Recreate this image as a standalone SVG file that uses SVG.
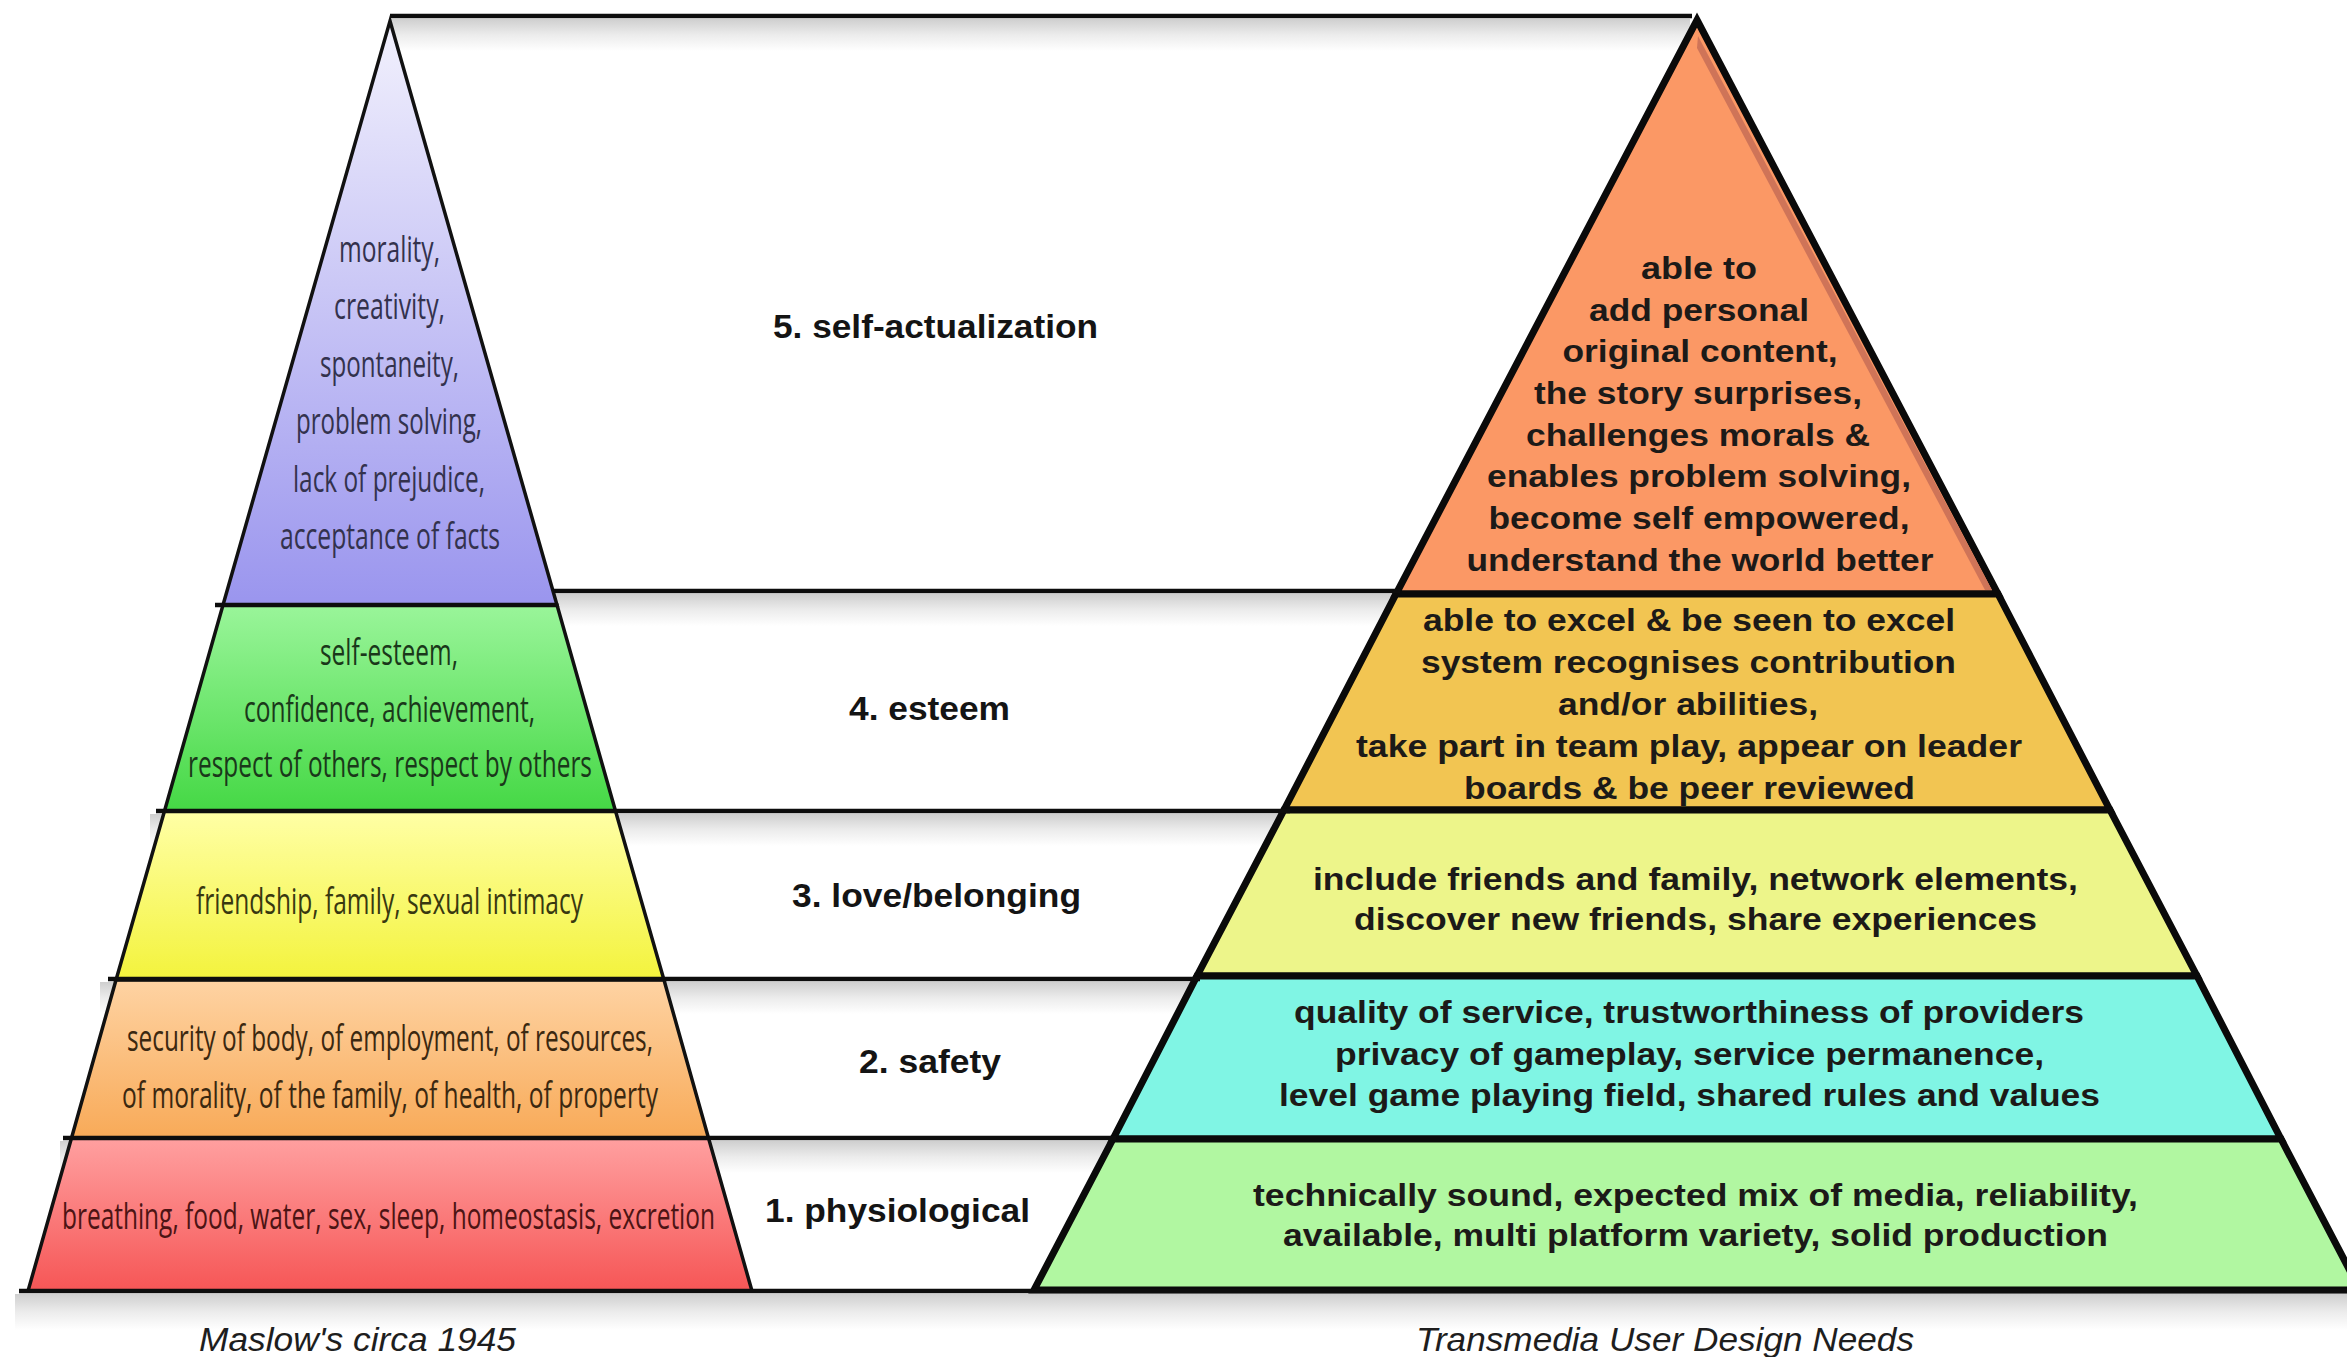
<svg xmlns="http://www.w3.org/2000/svg" width="2347" height="1357" viewBox="0 0 2347 1357">
<style>
.lt{font-family:"Open Sans","Liberation Sans",Arial,sans-serif;font-size:37px;text-anchor:middle}
.rt{font-family:"Liberation Sans",Arial,sans-serif;font-weight:bold;font-size:31px;text-anchor:middle;fill:#1c1a18}
.lbl{font-family:"Liberation Sans",Arial,sans-serif;font-weight:bold;font-size:33px;text-anchor:middle;fill:#141414}
.cap{font-family:"Liberation Sans",Arial,sans-serif;font-style:italic;font-size:33px;text-anchor:middle;fill:#1e1e1e}
.lb{stroke:#111;stroke-width:3.5;stroke-linejoin:miter}
.rb{stroke:#0a0a0a;stroke-width:7;stroke-linejoin:miter}
.cn{stroke:#0d0d0d;stroke-width:4.5;fill:none}
.sh{fill:url(#shade)}
</style>
<defs>
<linearGradient id="shade" x1="0" y1="0" x2="0" y2="1"><stop offset="0" stop-color="#cfcfcf"/><stop offset="0.5" stop-color="#ececec"/><stop offset="1" stop-color="#ffffff"/></linearGradient>
<linearGradient id="gP" x1="0" y1="0" x2="0" y2="1"><stop offset="0" stop-color="#f2f1fd"/><stop offset="0.45" stop-color="#cbc8f6"/><stop offset="1" stop-color="#9a95ee"/></linearGradient>
<linearGradient id="gG" x1="0" y1="0" x2="0" y2="1"><stop offset="0" stop-color="#9af59a"/><stop offset="1" stop-color="#45d845"/></linearGradient>
<linearGradient id="gY" x1="0" y1="0" x2="0" y2="1"><stop offset="0" stop-color="#ffffa6"/><stop offset="1" stop-color="#f3f33c"/></linearGradient>
<linearGradient id="gO" x1="0" y1="0" x2="0" y2="1"><stop offset="0" stop-color="#fed3a3"/><stop offset="1" stop-color="#f8aa58"/></linearGradient>
<linearGradient id="gR" x1="0" y1="0" x2="0" y2="1"><stop offset="0" stop-color="#ffa0a0"/><stop offset="1" stop-color="#f65656"/></linearGradient>
</defs>
<rect x="0" y="0" width="2347" height="1357" fill="#ffffff"/>
<g id="shadows">
<rect class="sh" x="390" y="19" width="1300" height="32"/>
<rect class="sh" x="400" y="594" width="1010" height="32"/>
<rect class="sh" x="150" y="814" width="1150" height="32"/>
<rect class="sh" x="100" y="982" width="1110" height="32"/>
<rect class="sh" x="60" y="1141" width="1070" height="32"/>
<rect class="sh" x="15" y="1294" width="2332" height="36"/>
</g>
<g id="maslow-5">
<polygon class="lb" points="390,21 557,605 223,605" fill="url(#gP)"/>
<g class="lt" fill="#33324d" transform="scale(0.6,1)">
<text x="649.2" y="262" textLength="168.3" lengthAdjust="spacingAndGlyphs">morality,</text>
<text x="649.2" y="319" textLength="185" lengthAdjust="spacingAndGlyphs">creativity,</text>
<text x="649.2" y="377" textLength="231.7" lengthAdjust="spacingAndGlyphs">spontaneity,</text>
<text x="648.3" y="434" textLength="310" lengthAdjust="spacingAndGlyphs">problem solving,</text>
<text x="648.3" y="492" textLength="320" lengthAdjust="spacingAndGlyphs">lack of prejudice,</text>
<text x="650" y="549" textLength="366.7" lengthAdjust="spacingAndGlyphs">acceptance of facts</text>
</g>
</g>
<g id="maslow-4">
<polygon class="lb" points="223,605 557,605 615.5,811 164.5,811" fill="url(#gG)"/>
<g class="lt" fill="#1a381a" transform="scale(0.6,1)">
<text x="648.3" y="665" textLength="230" lengthAdjust="spacingAndGlyphs">self-esteem,</text>
<text x="649.2" y="722" textLength="485" lengthAdjust="spacingAndGlyphs">confidence, achievement,</text>
<text x="650" y="777" textLength="673.3" lengthAdjust="spacingAndGlyphs">respect of others, respect by others</text>
</g>
</g>
<g id="maslow-3">
<polygon class="lb" points="164.5,811 615.5,811 664,980 116,980" fill="url(#gY)"/>
<g class="lt" fill="#383810" transform="scale(0.6,1)">
<text x="649.2" y="914" textLength="645" lengthAdjust="spacingAndGlyphs">friendship, family, sexual intimacy</text>
</g>
</g>
<g id="maslow-2">
<polygon class="lb" points="116,980 664,980 708.5,1138 71.5,1138" fill="url(#gO)"/>
<g class="lt" fill="#3b2810" transform="scale(0.6,1)">
<text x="650" y="1051" textLength="876.7" lengthAdjust="spacingAndGlyphs">security of body, of employment, of resources,</text>
<text x="650" y="1108" textLength="893.3" lengthAdjust="spacingAndGlyphs">of morality, of the family, of health, of property</text>
</g>
</g>
<g id="maslow-1">
<polygon class="lb" points="71.5,1138 708.5,1138 752,1291 28,1291" fill="url(#gR)"/>
<g class="lt" fill="#4c1414" transform="scale(0.6,1)">
<text x="647.5" y="1229" textLength="1088.3" lengthAdjust="spacingAndGlyphs">breathing, food, water, sex, sleep, homeostasis, excretion</text>
</g>
</g>
<g id="transmedia-5">
<polygon class="rb" points="1697,20 1998,594 1396,594" fill="#fb9865"/>
<polygon points="1698,36 1992,590 1985,590 1697,48" fill="#cf7458"/>
<g class="rt">
<text x="1699" y="279" textLength="116" lengthAdjust="spacingAndGlyphs">able to</text>
<text x="1699" y="320.5" textLength="220" lengthAdjust="spacingAndGlyphs">add personal</text>
<text x="1700" y="362" textLength="275" lengthAdjust="spacingAndGlyphs">original content,</text>
<text x="1698" y="404" textLength="328" lengthAdjust="spacingAndGlyphs">the story surprises,</text>
<text x="1698" y="445.5" textLength="344" lengthAdjust="spacingAndGlyphs">challenges morals &amp;</text>
<text x="1699" y="487" textLength="424" lengthAdjust="spacingAndGlyphs">enables problem solving,</text>
<text x="1699" y="528.5" textLength="421" lengthAdjust="spacingAndGlyphs">become self empowered,</text>
<text x="1700" y="570.5" textLength="467" lengthAdjust="spacingAndGlyphs">understand the world better</text>
</g>
</g>
<g id="transmedia-4">
<polygon class="rb" points="1396,594 1998,594 2110,810 1284,810" fill="#f2c552"/>
<g class="rt">
<text x="1689" y="631" textLength="532" lengthAdjust="spacingAndGlyphs">able to excel &amp; be seen to excel</text>
<text x="1688.5" y="673" textLength="535" lengthAdjust="spacingAndGlyphs">system recognises contribution</text>
<text x="1688" y="715" textLength="260" lengthAdjust="spacingAndGlyphs">and/or abilities,</text>
<text x="1689" y="757" textLength="666" lengthAdjust="spacingAndGlyphs">take part in team play, appear on leader</text>
<text x="1689.5" y="799" textLength="451" lengthAdjust="spacingAndGlyphs">boards &amp; be peer reviewed</text>
</g>
</g>
<g id="transmedia-3">
<polygon class="rb" points="1284,810 2110,810 2197,976 1197,976" fill="#edf58a"/>
<g class="rt">
<text x="1695.5" y="890" textLength="765" lengthAdjust="spacingAndGlyphs">include friends and family, network elements,</text>
<text x="1695.5" y="930" textLength="683" lengthAdjust="spacingAndGlyphs">discover new friends, share experiences</text>
</g>
</g>
<g id="transmedia-2">
<polygon class="rb" points="1197,976 2197,976 2281,1139 1113,1139" fill="#80f5e4"/>
<g class="rt">
<text x="1689" y="1023" textLength="790" lengthAdjust="spacingAndGlyphs">quality of service, trustworthiness of providers</text>
<text x="1689.5" y="1064.5" textLength="709" lengthAdjust="spacingAndGlyphs">privacy of gameplay, service permanence,</text>
<text x="1689.5" y="1106" textLength="821" lengthAdjust="spacingAndGlyphs">level game playing field, shared rules and values</text>
</g>
</g>
<g id="transmedia-1">
<polygon class="rb" points="1113,1139 2281,1139 2360,1290 1034,1290" fill="#b1f7a1"/>
<g class="rt">
<text x="1695.5" y="1206" textLength="885" lengthAdjust="spacingAndGlyphs">technically sound, expected mix of media, reliability,</text>
<text x="1695.5" y="1246" textLength="825" lengthAdjust="spacingAndGlyphs">available, multi platform variety, solid production</text>
</g>
</g>
<g id="connectors">
<line class="cn" x1="390" y1="16" x2="1692" y2="16" stroke-width="5"/>
<line class="cn" x1="553" y1="591" x2="1400" y2="591"/>
<line class="cn" x1="215" y1="605" x2="557" y2="605"/>
<line class="cn" x1="156" y1="811" x2="1290" y2="811"/>
<line class="cn" x1="108" y1="979" x2="1200" y2="979"/>
<line class="cn" x1="63" y1="1138" x2="1116" y2="1138"/>
<line class="cn" x1="19" y1="1291" x2="2347" y2="1291"/>
</g>
<g id="level-5"><text class="lbl" x="935.5" y="338" textLength="325" lengthAdjust="spacingAndGlyphs">5. self-actualization</text></g>
<g id="level-4"><text class="lbl" x="929.5" y="720" textLength="161" lengthAdjust="spacingAndGlyphs">4. esteem</text></g>
<g id="level-3"><text class="lbl" x="936.5" y="907" textLength="289" lengthAdjust="spacingAndGlyphs">3. love/belonging</text></g>
<g id="level-2"><text class="lbl" x="930" y="1073" textLength="142" lengthAdjust="spacingAndGlyphs">2. safety</text></g>
<g id="level-1"><text class="lbl" x="897.5" y="1222" textLength="265" lengthAdjust="spacingAndGlyphs">1. physiological</text></g>
<g id="captions">
<text class="cap" x="357.5" y="1351" textLength="317" lengthAdjust="spacingAndGlyphs">Maslow's circa 1945</text>
<text class="cap" x="1665" y="1351" textLength="498" lengthAdjust="spacingAndGlyphs">Transmedia User Design Needs</text>
</g>
</svg>
